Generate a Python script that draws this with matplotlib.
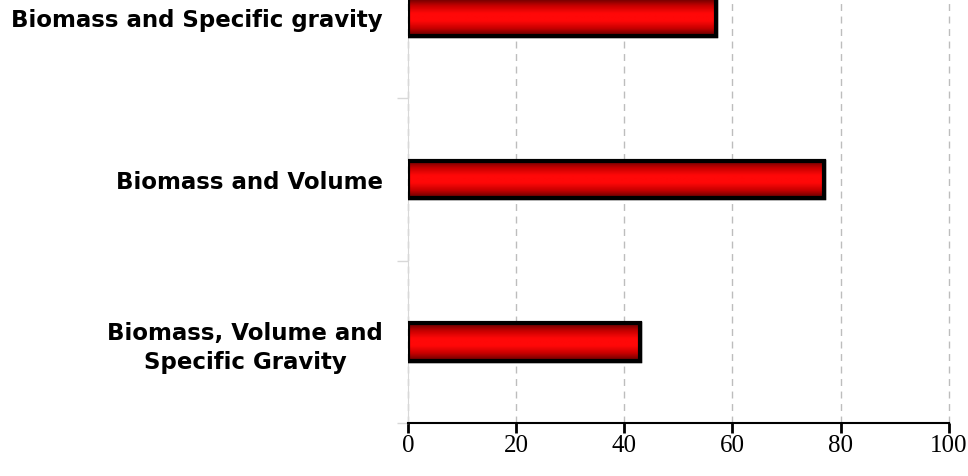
import matplotlib
matplotlib.use("Agg")
import matplotlib.pyplot as plt
import numpy as np
from matplotlib.colors import LinearSegmentedColormap

categories = ["Biomass, Volume and\nSpecific Gravity", "Biomass and Volume", "Biomass and Specific gravity"]
values = [43, 77, 57]
xticks = [0, 20, 40, 60, 80, 100]

fig = plt.figure(figsize=(9.68, 4.77), dpi=100)
ax = fig.add_axes([0.4215, 0.111, 0.5585, 0.889])

ypos = np.arange(len(categories))
bar_h = 0.23
bars = ax.barh(ypos, values, height=bar_h, color="#ff0000", edgecolor="black",
               linewidth=2.5, zorder=3)

cmap = LinearSegmentedColormap.from_list(
    "redgrad", ["#600000", "#c80000", "#ff0808", "#ff0808", "#c80000", "#600000"])
grad = np.linspace(0, 1, 64).reshape(-1, 1)
for b in bars:
    x0, y0, w, h = b.get_x(), b.get_y(), b.get_width(), b.get_height()
    im = ax.imshow(grad, cmap=cmap, aspect="auto", extent=[x0, x0 + w, y0, y0 + h],
                   zorder=3.5, interpolation="bilinear")
    im.set_clip_path(b)
    ax.add_patch(plt.Rectangle((x0, y0), w, h, fill=False, edgecolor="black",
                               linewidth=3, zorder=4))

ax.set_xlim(0, 100)
ax.set_ylim(-0.5, 2.11)
ax.set_xticks(xticks)
ax.set_xticklabels([str(t) for t in xticks], fontfamily="Liberation Serif", fontsize=18)
ax.set_yticks(ypos)
ax.set_yticklabels(categories, fontsize=16.5, fontweight="bold", fontfamily="DejaVu Sans",
                   ha="right", multialignment="center", linespacing=1.3)
ax.tick_params(axis="y", length=0, pad=18)
ax.set_yticks([-0.5, 0.5, 1.5], minor=True)
ax.tick_params(axis="y", which="minor", length=8, color="#d8d8d8", width=1)
ax.tick_params(axis="x", length=7, width=2, color="black", pad=1, direction="out")

ax.grid(axis="x", linestyle=(0, (5, 4)), color="#bdbdbd", linewidth=1, zorder=0)
for gl in ax.get_xgridlines():
    gl.set_clip_on(False)
for s in ["top", "right"]:
    ax.spines[s].set_visible(False)
ax.spines["left"].set_color("#d8d8d8")
ax.spines["bottom"].set_color("black")
ax.spines["bottom"].set_linewidth(1.5)

fig.savefig("out.png", dpi=100)
